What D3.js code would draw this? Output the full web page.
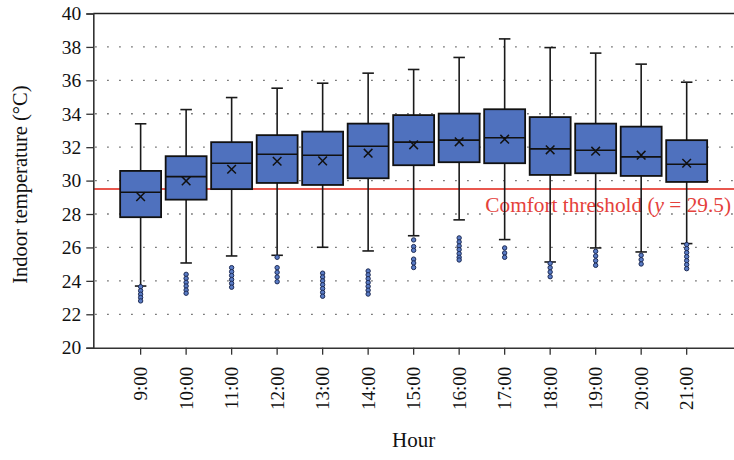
<!DOCTYPE html>
<html>
<head>
<meta charset="utf-8">
<script src="https://cdn.jsdelivr.net/npm/d3@7"></script>
<style>
  html, body { margin: 0; padding: 0; background: #fff; }
  svg { display: block; }
  text { font-family: "Liberation Serif", "Times New Roman", serif; fill: #111; }
</style>
</head>
<body>
<svg id="chart" width="734" height="460"></svg>
<script>
// Hourly indoor temperature distribution (°C)
const hours = ["9:00", "10:00", "11:00", "12:00", "13:00", "14:00", "15:00",
               "16:00", "17:00", "18:00", "19:00", "20:00", "21:00"];
const whiskerHigh = [33.4, 34.25, 34.97, 35.53, 35.83, 36.43, 36.65, 37.37, 38.48, 37.96, 37.63, 36.97, 35.89];
const q3          = [30.58, 31.46, 32.3, 32.72, 32.93, 33.41, 33.92, 34.01, 34.27, 33.8, 33.41, 33.23, 32.42];
const median      = [29.3, 30.24, 31.04, 31.58, 31.52, 32.06, 32.3, 32.42, 32.56, 31.9, 31.82, 31.42, 30.98];
const mean        = [29.04, 29.98, 30.68, 31.16, 31.18, 31.64, 32.14, 32.32, 32.48, 31.84, 31.76, 31.52, 31.04];
const q1          = [27.81, 28.86, 29.49, 29.86, 29.74, 30.14, 30.92, 31.1, 31.04, 30.34, 30.44, 30.28, 29.92];
const whiskerLow  = [23.69, 25.07, 25.49, 25.53, 26.01, 25.79, 26.7, 27.65, 26.47, 25.13, 25.97, 25.73, 26.23];
const outliers = [
  [23.65, 23.41, 23.2, 23.0, 22.8],
  [24.39, 24.15, 23.91, 23.69, 23.45, 23.26],
  [24.79, 24.55, 24.32, 24.08, 23.85, 23.62],
  [25.41, 24.79, 24.51, 24.23, 23.95],
  [24.46, 24.23, 24.0, 23.77, 23.54, 23.31, 23.08],
  [24.59, 24.36, 24.13, 23.9, 23.67, 23.44, 23.21],
  [26.45, 26.05, 25.83, 25.3, 25.07, 24.8],
  [26.57, 26.33, 26.09, 25.87, 25.63, 25.41, 25.25],
  [25.97, 25.67, 25.41],
  [25.05, 24.79, 24.53, 24.25],
  [25.77, 25.49, 25.21, 24.93],
  [25.53, 25.27, 25.01],
  [26.17, 25.93, 25.69, 25.45, 25.21, 24.97, 24.73]
];
const yTicks = [20, 22, 24, 26, 28, 30, 32, 34, 36, 38, 40];
const gridValues = [22, 24, 26, 28, 30, 32, 34, 36, 38];
const threshold = 29.5;

const plotLeft = 93.3, plotRight = 734, plotTop = 13.5, plotBottom = 347.7;
const svg = d3.select("#chart");

const x = d3.scaleBand().domain(hours).range([plotLeft, plotRight])
  .paddingInner(0).paddingOuter(0.54);
const y = d3.scaleLinear().domain([20, 40]).range([plotBottom, plotTop]);

const boxW = x.bandwidth() * 0.9;
const capW = 11.5;
const cx = h => x(h) + x.bandwidth() / 2;

// dotted horizontal grid
svg.append("g").selectAll("line").data(gridValues).join("line")
  .attr("x1", plotLeft + 1).attr("x2", plotRight)
  .attr("y1", d => y(d)).attr("y2", d => y(d))
  .attr("stroke", "#444").attr("stroke-width", 1.3)
  .attr("stroke-dasharray", "1.3,10.7")
  .attr("stroke-dashoffset", -1);

// top frame line
svg.append("line")
  .attr("x1", plotLeft).attr("x2", plotRight).attr("y1", y(40)).attr("y2", y(40))
  .attr("stroke", "#222").attr("stroke-width", 1.3);

// comfort threshold
svg.append("line")
  .attr("x1", plotLeft).attr("x2", plotRight)
  .attr("y1", y(threshold)).attr("y2", y(threshold))
  .attr("stroke", "#e8574e").attr("stroke-width", 2);

const thrLabel = svg.append("text")
  .attr("x", 731).attr("y", y(threshold) + 23)
  .attr("text-anchor", "end")
  .style("font-size", "21.3px")
  .style("fill", "#e5413b");
thrLabel.append("tspan").style("fill", "#e5413b").text("Comfort threshold (");
thrLabel.append("tspan").style("font-style", "italic").style("fill", "#e5413b").text("y");
thrLabel.append("tspan").style("fill", "#e5413b").text(" = 29.5)");

// box plots
const g = svg.append("g");
hours.forEach((h, i) => {
  const c = cx(h);
  const gb = g.append("g");
  // whiskers
  gb.append("line").attr("x1", c).attr("x2", c)
    .attr("y1", y(whiskerHigh[i])).attr("y2", y(q3[i]))
    .attr("stroke", "#1a1a1a").attr("stroke-width", 1.6);
  gb.append("line").attr("x1", c).attr("x2", c)
    .attr("y1", y(q1[i])).attr("y2", y(whiskerLow[i]))
    .attr("stroke", "#1a1a1a").attr("stroke-width", 1.6);
  gb.append("line").attr("x1", c - capW / 2).attr("x2", c + capW / 2)
    .attr("y1", y(whiskerHigh[i])).attr("y2", y(whiskerHigh[i]))
    .attr("stroke", "#1a1a1a").attr("stroke-width", 1.6);
  gb.append("line").attr("x1", c - capW / 2).attr("x2", c + capW / 2)
    .attr("y1", y(whiskerLow[i])).attr("y2", y(whiskerLow[i]))
    .attr("stroke", "#1a1a1a").attr("stroke-width", 1.6);
  // box
  gb.append("rect")
    .attr("x", c - boxW / 2).attr("width", boxW)
    .attr("y", y(q3[i])).attr("height", y(q1[i]) - y(q3[i]))
    .attr("fill", "#4f71be").attr("stroke", "#111").attr("stroke-width", 1.8);
  // median
  gb.append("line").attr("x1", c - boxW / 2).attr("x2", c + boxW / 2)
    .attr("y1", y(median[i])).attr("y2", y(median[i]))
    .attr("stroke", "#111").attr("stroke-width", 1.6);
  // mean marker (×)
  const m = y(mean[i]), s = 4.3;
  gb.append("path")
    .attr("d", `M${c - s},${m - s}L${c + s},${m + s}M${c - s},${m + s}L${c + s},${m - s}`)
    .attr("stroke", "#111").attr("stroke-width", 1.5).attr("fill", "none");
  // outliers
  gb.selectAll("circle").data(outliers[i]).join("circle")
    .attr("cx", c).attr("cy", d => y(d)).attr("r", 2.2)
    .attr("fill", "#5a7cc6").attr("stroke", "#1d2b55").attr("stroke-width", 1);
});

// y axis
const yAxis = d3.axisLeft(y).tickValues(yTicks).tickSize(7).tickPadding(5)
  .tickFormat(d3.format("d"));
const ya = svg.append("g").attr("transform", `translate(${plotLeft},0)`).call(yAxis);
ya.select(".domain").attr("stroke", "#333").attr("stroke-width", 1.6);
ya.selectAll(".tick line").attr("stroke", "#333").attr("stroke-width", 1.3);
ya.selectAll(".tick text").style("font-size", "19.5px").style("font-family", "'Liberation Serif', serif").attr("fill", "#111");

// x axis
const xAxis = d3.axisBottom(x).tickSize(7).tickSizeOuter(0);
const xa = svg.append("g").attr("transform", `translate(0,${plotBottom})`).call(xAxis);
xa.select(".domain").attr("stroke", "#333").attr("stroke-width", 1.4);
xa.selectAll(".tick line").attr("stroke", "#333").attr("stroke-width", 1.3);
xa.selectAll(".tick text")
  .style("font-size", "19px").style("font-family", "'Liberation Serif', serif").attr("fill", "#111")
  .attr("transform", "rotate(-90)")
  .attr("text-anchor", "end")
  .attr("x", -19).attr("y", 0).attr("dy", "0.34em");

// axis titles
svg.append("text")
  .attr("transform", `translate(27,${(plotTop + plotBottom) / 2 + 4}) rotate(-90)`)
  .attr("text-anchor", "middle")
  .style("font-size", "20.5px")
  .text("Indoor temperature (°C)");

svg.append("text")
  .attr("x", (plotLeft + plotRight) / 2).attr("y", 447)
  .attr("text-anchor", "middle")
  .style("font-size", "21px")
  .text("Hour");
</script>
</body>
</html>
